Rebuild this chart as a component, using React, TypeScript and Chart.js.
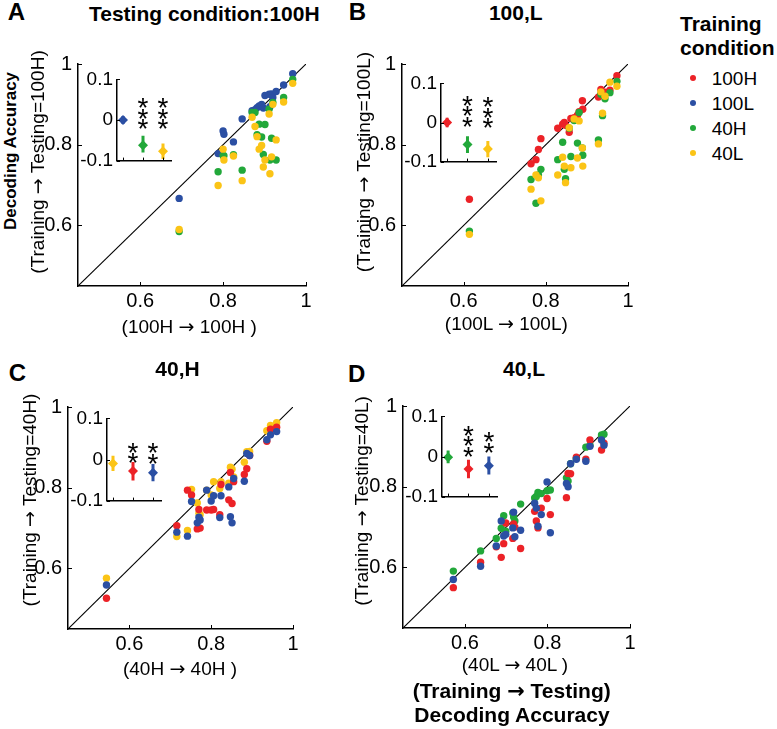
import React, { useEffect, useRef } from "react";
import { Chart, registerables } from "chart.js";

Chart.register(...registerables);

const FONT = '"Liberation Sans", Arial, Helvetica, sans-serif';
const ARROW_FONT = '"DejaVu Sans", "Liberation Sans", sans-serif';
Chart.defaults.font.family = FONT;
Chart.defaults.color = "#000";

const RED = "#ec2227";
const BLUE = "#2b4fa3";
const GREEN = "#22a83a";
const YELLOW = "#fbc416";

const conditions = ["100H", "100L", "40H", "40L"];
const condColors = [RED, BLUE, GREEN, YELLOW];
const axisTicks = [0.6, 0.8, 1];
const insetTicks = [0.1, 0, -0.1];
const insetCats = [1, 2, 3];

// ---------- Panel A: testing 100H ----------
const aX = [0.694, 0.788, 0.800, 0.802, 0.825, 0.846, 0.870, 0.877, 0.882, 0.887, 0.893, 0.897, 0.901, 0.911, 0.913, 0.917, 0.920, 0.928, 0.946, 0.968];
const a100L = [0.667, 0.778, 0.834, 0.826, 0.807, 0.864, 0.884, 0.887, 0.892, 0.896, 0.900, 0.891, 0.922, 0.925, 0.894, 0.926, 0.917, 0.932, 0.948, 0.976];
const a40H = [0.585, 0.733, 0.773, 0.773, 0.775, 0.737, 0.880, 0.880, 0.825, 0.851, 0.819, 0.776, 0.850, 0.888, 0.762, 0.816, 0.905, 0.762, 0.917, 0.962];
const a40L = [0.590, 0.699, 0.789, 0.762, 0.772, 0.711, 0.868, 0.845, 0.820, 0.789, 0.798, 0.745, 0.762, 0.876, 0.728, 0.770, 0.900, 0.812, 0.906, 0.952];
const aInsetMean = [0.0, -0.062, -0.077];
const aInsetLo = [-0.01, -0.08, -0.096];
const aInsetHi = [0.01, -0.039, -0.058];
const aStars = ["", "***", "***"];
const aStarBase = [0, -0.005, -0.005];

// ---------- Panel B: testing 100L ----------
const bX = [0.614, 0.764, 0.776, 0.782, 0.788, 0.829, 0.841, 0.845, 0.848, 0.857, 0.861, 0.869, 0.877, 0.881, 0.889, 0.890, 0.928, 0.934, 0.938, 0.944, 0.956, 0.973];
const b100H = [0.665, 0.753, 0.763, 0.788, 0.815, 0.841, 0.851, 0.855, 0.848, 0.831, 0.865, 0.867, 0.873, 0.882, 0.909, 0.888, 0.918, 0.937, 0.925, 0.930, 0.935, 0.971];
const b40H = [0.586, 0.714, 0.655, 0.725, 0.739, 0.763, 0.806, 0.739, 0.716, 0.841, 0.771, 0.860, 0.804, 0.880, 0.792, 0.774, 0.812, 0.925, 0.872, 0.914, 0.929, 0.957];
const b40L = [0.578, 0.690, 0.725, 0.718, 0.661, 0.725, 0.769, 0.747, 0.706, 0.842, 0.743, 0.864, 0.767, 0.859, 0.792, 0.747, 0.802, 0.931, 0.878, 0.920, 0.955, 0.945];
const bInsetMean = [0.0, -0.056, -0.068];
const bInsetLo = [-0.012, -0.078, -0.089];
const bInsetHi = [0.012, -0.035, -0.047];
const bStars = ["", "***", "***"];
const bStarBase = [0, 0.008, 0.004];

// ---------- Panel C: testing 40H ----------
const cX = [0.544, 0.716, 0.742, 0.752, 0.766, 0.770, 0.773, 0.789, 0.800, 0.806, 0.821, 0.824, 0.843, 0.847, 0.851, 0.855, 0.881, 0.887, 0.894, 0.936, 0.945, 0.960];
const c40L = [0.576, 0.679, 0.694, 0.796, 0.762, 0.737, 0.733, 0.794, 0.782, 0.815, 0.798, 0.815, 0.811, 0.851, 0.846, 0.827, 0.863, 0.889, 0.890, 0.941, 0.954, 0.961];
const c100H = [0.526, 0.706, 0.794, 0.782, 0.698, 0.746, 0.700, 0.745, 0.745, 0.746, 0.733, 0.808, 0.770, 0.838, 0.761, 0.815, 0.833, 0.847, 0.880, 0.915, 0.945, 0.950];
const c100L = [0.559, 0.690, 0.680, 0.766, 0.713, 0.727, 0.720, 0.794, 0.767, 0.780, 0.726, 0.780, 0.802, 0.728, 0.713, 0.823, 0.816, 0.885, 0.880, 0.919, 0.931, 0.939];
const cInsetMean = [-0.01, -0.028, -0.032];
const cInsetLo = [-0.028, -0.051, -0.053];
const cInsetHi = [0.009, -0.006, -0.011];
const cStars = ["", "**", "**"];
const cStarBase = [0, 0.009, 0.007];

// ---------- Panel D: testing 40L ----------
const dX = [0.572, 0.638, 0.676, 0.688, 0.694, 0.699, 0.716, 0.718, 0.721, 0.735, 0.769, 0.773, 0.777, 0.785, 0.799, 0.807, 0.846, 0.850, 0.856, 0.870, 0.893, 0.903, 0.931, 0.937];
const d40H = [0.591, 0.641, 0.672, 0.697, 0.728, 0.690, 0.735, 0.725, 0.715, 0.757, 0.772, 0.776, 0.786, 0.783, 0.790, 0.792, 0.822, 0.814, 0.857, 0.870, 0.898, 0.903, 0.928, 0.930];
const d100H = [0.550, 0.613, 0.651, 0.625, 0.659, 0.710, 0.672, 0.708, 0.700, 0.647, 0.739, 0.715, 0.698, 0.747, 0.771, 0.731, 0.773, 0.833, 0.832, 0.873, 0.868, 0.916, 0.891, 0.908];
const d100L = [0.570, 0.603, 0.653, 0.715, 0.678, 0.682, 0.698, 0.737, 0.676, 0.692, 0.759, 0.747, 0.702, 0.731, 0.812, 0.686, 0.808, 0.800, 0.857, 0.868, 0.863, 0.900, 0.916, 0.903];
const dInsetMean = [-0.002, -0.031, -0.023];
const dInsetLo = [-0.017, -0.054, -0.045];
const dInsetHi = [0.015, -0.008, 0.0];
const dStars = ["", "***", "**"];
const dStarBase = [0, 0.017, 0.027];

type Box = { L: number; T: number; R: number; B: number };
type Series = { ys: number[]; color: string };

function inwardTicks(xt: number[], yt: number[], len: number) {
  return {
    id: "inwardTicks",
    afterDraw(chart: any) {
      const { ctx, chartArea: ca, scales } = chart;
      const x = scales.x, y = scales.y;
      ctx.save();
      ctx.strokeStyle = "#000";
      ctx.lineWidth = 1;
      xt.forEach((v) => {
        const p = Math.round(x.getPixelForValue(v)) + 0.5;
        ctx.beginPath();
        ctx.moveTo(p, ca.bottom);
        ctx.lineTo(p, ca.bottom - len);
        ctx.stroke();
      });
      yt.forEach((v) => {
        const p = Math.round(y.getPixelForValue(v)) + 0.5;
        ctx.beginPath();
        ctx.moveTo(ca.left, p);
        ctx.lineTo(ca.left + len, p);
        ctx.stroke();
      });
      ctx.restore();
    },
  };
}

function ScatterPanel({ box, xs, series }: { box: Box; xs: number[]; series: Series[] }) {
  const ref = useRef<HTMLCanvasElement>(null);
  const padL = 40, padT = 15, padR = 15, padB = 30;
  const w = box.R - box.L + padL + padR;
  const h = box.B - box.T + padT + padB;
  useEffect(() => {
    const datasets: any[] = [
      {
        type: "line",
        data: [{ x: 0.45, y: 0.45 }, { x: 1, y: 1 }],
        borderColor: "#000",
        borderWidth: 1.1,
        pointRadius: 0,
        order: 10,
      },
    ];
    series.forEach((s, k) => {
      datasets.push({
        type: "scatter",
        data: xs.map((x, i) => ({ x, y: s.ys[i] })),
        backgroundColor: s.color,
        borderWidth: 0,
        pointRadius: 3.7,
        order: series.length - k,
      });
    });
    const tickOpts = (pad: number) => ({
      font: { size: 20, family: FONT },
      color: "#000",
      padding: pad,
      callback: (v: any) => String(v),
    });
    const chart = new Chart(ref.current!, {
      type: "scatter",
      data: { datasets },
      options: {
        animation: false,
        responsive: false,
        layout: { padding: { top: padT, right: padR, left: 0, bottom: 0 } },
        plugins: { legend: { display: false }, tooltip: { enabled: false } },
        scales: {
          x: {
            type: "linear",
            min: 0.45,
            max: 1,
            afterBuildTicks: (s: any) => { s.ticks = axisTicks.map((v) => ({ value: v })); },
            afterFit: (s: any) => { s.height = padB; },
            grid: { display: false, drawTicks: false },
            border: { color: "#000", width: 1.5 },
            ticks: tickOpts(3),
          },
          y: {
            type: "linear",
            min: 0.45,
            max: 1,
            afterBuildTicks: (s: any) => { s.ticks = axisTicks.map((v) => ({ value: v })); },
            afterFit: (s: any) => { s.width = padL; },
            grid: { display: false, drawTicks: false },
            border: { color: "#000", width: 1.5 },
            ticks: tickOpts(6),
          },
        },
      } as any,
      plugins: [inwardTicks(axisTicks, axisTicks, 4)],
    });
    return () => chart.destroy();
  }, []);
  return (
    <canvas
      ref={ref}
      width={w}
      height={h}
      style={{ position: "absolute", left: box.L - padL, top: box.T - padT, width: w, height: h }}
    />
  );
}

function InsetPanel({
  box, colors, mean, lo, hi, stars, starBase,
}: {
  box: Box; colors: string[]; mean: number[]; lo: number[]; hi: number[]; stars: string[]; starBase: number[];
}) {
  const ref = useRef<HTMLCanvasElement>(null);
  const padL = 45, padT = 12, padR = 5, padB = 12;
  const w = box.R - box.L + padL + padR;
  const h = box.B - box.T + padT + padB;
  useEffect(() => {
    const datasets: any[] = [];
    insetCats.forEach((c, i) => {
      datasets.push({
        type: "line",
        data: [{ x: c, y: lo[i] }, { x: c, y: hi[i] }],
        borderColor: colors[i],
        borderWidth: 3,
        pointRadius: 0,
      });
      datasets.push({
        type: "scatter",
        data: [{ x: c, y: mean[i] }],
        backgroundColor: colors[i],
        borderWidth: 0,
        pointStyle: "rectRot",
        pointRadius: 5,
      });
    });
    const starPlugin = {
      id: "stars",
      afterDatasetsDraw(chart: any) {
        const { ctx, scales } = chart;
        const size = 28;
        ctx.save();
        ctx.fillStyle = "#000";
        ctx.font = `${size}px ${FONT}`;
        ctx.textAlign = "center";
        ctx.textBaseline = "alphabetic";
        insetCats.forEach((c, i) => {
          const n = stars[i].length;
          const px = scales.x.getPixelForValue(c);
          const base = scales.y.getPixelForValue(starBase[i]);
          for (let k = 0; k < n; k++) {
            const cy = base - k * 10.5;
            ctx.fillText("*", px, cy + 0.58 * size);
          }
        });
        ctx.restore();
      },
    };
    const chart = new Chart(ref.current!, {
      type: "scatter",
      data: { datasets },
      options: {
        animation: false,
        responsive: false,
        layout: { padding: { top: padT, right: padR, left: 0, bottom: padB } },
        plugins: { legend: { display: false }, tooltip: { enabled: false } },
        scales: {
          x: {
            type: "linear",
            min: 0.7,
            max: 3.4,
            afterFit: (s: any) => { s.height = 0; },
            grid: { display: false, drawTicks: false },
            border: { color: "#000", width: 1.5 },
            ticks: { display: false },
          },
          y: {
            type: "linear",
            min: -0.1,
            max: 0.1,
            afterBuildTicks: (s: any) => { s.ticks = insetTicks.map((v) => ({ value: v })); },
            afterFit: (s: any) => { s.width = padL; },
            grid: { display: false, drawTicks: false },
            border: { color: "#000", width: 1.5 },
            ticks: {
              font: { size: 19, family: FONT },
              color: "#000",
              padding: 4,
              callback: (v: any) => String(Math.round(v * 10) / 10),
            },
          },
        },
      } as any,
      plugins: [inwardTicks(insetCats, insetTicks, 3), starPlugin],
    });
    return () => chart.destroy();
  }, []);
  return (
    <canvas
      ref={ref}
      width={w}
      height={h}
      style={{ position: "absolute", left: box.L - padL, top: box.T - padT, width: w, height: h }}
    />
  );
}

function Txt({
  x, y, text, size, bold, rotate, left,
}: { x: number; y: number; text: string; size: number; bold?: boolean; rotate?: boolean; left?: boolean }) {
  const parts = text.split("→");
  return (
    <div
      style={{
        position: "absolute",
        left: x,
        top: y,
        fontFamily: FONT,
        fontSize: size,
        fontWeight: bold ? "bold" : "normal",
        lineHeight: 1,
        whiteSpace: "nowrap",
        color: "#000",
        transform: left ? "translate(0,-50%)" : `translate(-50%,-50%)${rotate ? " rotate(-90deg)" : ""}`,
      }}
    >
      {parts.map((p, i) => (
        <React.Fragment key={i}>
          {i > 0 && <span style={{ fontFamily: ARROW_FONT }}>→</span>}
          {p}
        </React.Fragment>
      ))}
    </div>
  );
}

export default function App() {
  return (
    <div style={{ position: "absolute", left: 0, top: 0, width: 777, height: 729, background: "#fff", overflow: "hidden" }}>
      {/* Panel A */}
      <ScatterPanel
        box={{ L: 78, T: 61, R: 306, B: 286 }}
        xs={aX}
        series={[{ ys: a100L, color: BLUE }, { ys: a40H, color: GREEN }, { ys: a40L, color: YELLOW }]}
      />
      <InsetPanel box={{ L: 117, T: 76, R: 171, B: 164 }} colors={[BLUE, GREEN, YELLOW]}
        mean={aInsetMean} lo={aInsetLo} hi={aInsetHi} stars={aStars} starBase={aStarBase} />
      {/* Panel B */}
      <ScatterPanel
        box={{ L: 402, T: 61, R: 628, B: 286 }}
        xs={bX}
        series={[{ ys: b100H, color: RED }, { ys: b40H, color: GREEN }, { ys: b40L, color: YELLOW }]}
      />
      <InsetPanel box={{ L: 441, T: 80, R: 496, B: 165 }} colors={[RED, GREEN, YELLOW]}
        mean={bInsetMean} lo={bInsetLo} hi={bInsetHi} stars={bStars} starBase={bStarBase} />
      {/* Panel C */}
      <ScatterPanel
        box={{ L: 68, T: 404, R: 293, B: 629 }}
        xs={cX}
        series={[{ ys: c40L, color: YELLOW }, { ys: c100H, color: RED }, { ys: c100L, color: BLUE }]}
      />
      <InsetPanel box={{ L: 107, T: 415, R: 161, B: 504 }} colors={[YELLOW, RED, BLUE]}
        mean={cInsetMean} lo={cInsetLo} hi={cInsetHi} stars={cStars} starBase={cStarBase} />
      {/* Panel D */}
      <ScatterPanel
        box={{ L: 403, T: 403, R: 630, B: 628 }}
        xs={dX}
        series={[{ ys: d40H, color: GREEN }, { ys: d100H, color: RED }, { ys: d100L, color: BLUE }]}
      />
      <InsetPanel box={{ L: 442, T: 413, R: 497, B: 500 }} colors={[GREEN, RED, BLUE]}
        mean={dInsetMean} lo={dInsetLo} hi={dInsetHi} stars={dStars} starBase={dStarBase} />

      {/* Panel letters and titles */}
      <Txt x={16.5} y={11.5} text="A" size={24} bold />
      <Txt x={204.3} y={12.5} text="Testing condition:100H" size={21} bold />
      <Txt x={357.5} y={11.7} text="B" size={24} bold />
      <Txt x={515.8} y={12.2} text="100,L" size={21} bold />
      <Txt x={17.5} y={373.3} text="C" size={24} bold />
      <Txt x={177.5} y={368.3} text="40,H" size={21} bold />
      <Txt x={356.7} y={374} text="D" size={24} bold />
      <Txt x={524} y={368} text="40,L" size={21} bold />

      {/* Y axis titles */}
      <Txt x={10} y={151} text="Decoding Accuracy" size={17} bold rotate />
      <Txt x={36.7} y={162} text="(Training → Testing=100H)" size={19} rotate />
      <Txt x={362.7} y={162} text="(Training → Testing=100L)" size={19} rotate />
      <Txt x={29.3} y={500} text="(Training → Testing=40H)" size={19} rotate />
      <Txt x={361} y={501} text="(Training → Testing=40L)" size={19} rotate />

      {/* X axis titles */}
      <Txt x={189.2} y={326} text="(100H → 100H )" size={19} />
      <Txt x={506.3} y={322.5} text="(100L → 100L)" size={19} />
      <Txt x={180} y={667.5} text="(40H → 40H )" size={19} />
      <Txt x={515} y={664} text="(40L → 40L )" size={19} />
      <Txt x={511.7} y={690.8} text="(Training → Testing)" size={21} bold />
      <Txt x={512} y={714} text="Decoding Accuracy" size={21} bold />

      {/* Legend */}
      <Txt x={680} y={23.3} text="Training" size={21} bold left />
      <Txt x={680} y={46.7} text="condition" size={21} bold left />
      {conditions.map((c, i) => (
        <React.Fragment key={c}>
          <div
            style={{
              position: "absolute",
              left: 693.3 - 3,
              top: 78.3 + i * 25 - 3,
              width: 6,
              height: 6,
              borderRadius: "50%",
              background: condColors[i],
            }}
          />
          <Txt x={711.7} y={78.3 + i * 25} text={c} size={19} left />
        </React.Fragment>
      ))}
    </div>
  );
}
